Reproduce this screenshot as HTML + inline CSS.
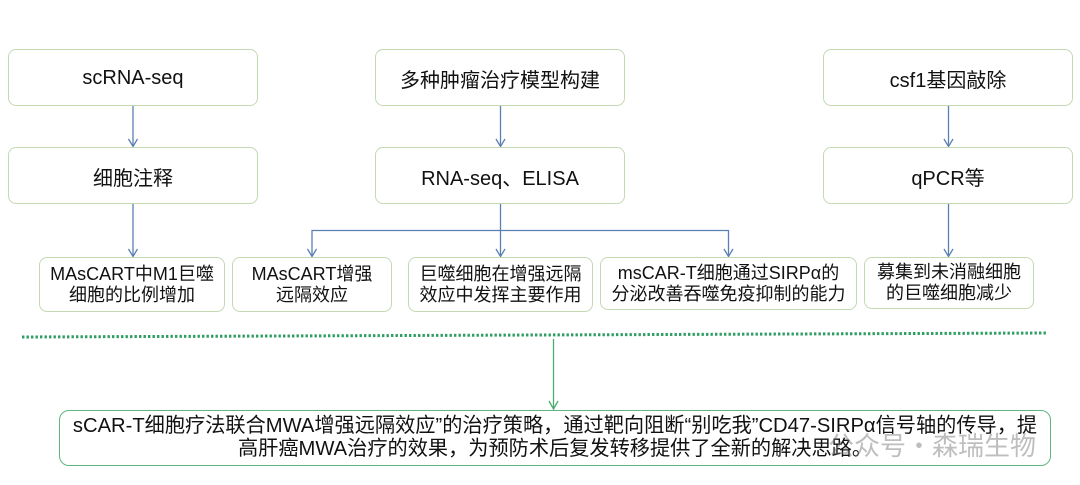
<!DOCTYPE html>
<html>
<head>
<meta charset="utf-8">
<style>
  html,body{margin:0;padding:0;background:#fff;}
  body{width:1080px;height:485px;position:relative;overflow:hidden;
       font-family:"Liberation Sans","Noto Sans CJK SC",sans-serif;color:#111;}
  .box{position:absolute;box-sizing:border-box;border:1.5px solid #c4d9b2;border-radius:8px;background:#fff;
       display:flex;align-items:center;justify-content:center;text-align:center;}
  .t{font-size:20px;padding-top:2px;}
  .s{font-size:18px;line-height:21px;}
  .big{position:absolute;box-sizing:border-box;left:59px;top:410px;width:992px;height:56px;
       border:1.5px solid #5fb682;border-radius:10px;background:#fff;
       display:flex;align-items:center;justify-content:center;text-align:center;
       font-size:20.2px;line-height:23px;white-space:nowrap;}
  svg{position:absolute;left:0;top:0;}
  .wm{position:absolute;left:828px;top:426px;font-size:26px;color:rgba(110,110,110,0.45);
      font-family:"Noto Sans CJK SC",sans-serif;white-space:nowrap;letter-spacing:0px;}
</style>
</head>
<body>
<svg width="1080" height="485" viewBox="0 0 1080 485">
  <g stroke="#5b7fb3" stroke-width="1.3" fill="none">
    <line x1="133" y1="106" x2="133" y2="146"/>
    <polyline points="128.5,139 133,146.5 137.5,139"/>
    <line x1="133" y1="204" x2="133" y2="256"/>
    <polyline points="128.5,249 133,256.5 137.5,249"/>
    <line x1="500.5" y1="106" x2="500.5" y2="146"/>
    <polyline points="496,139 500.5,146.5 505,139"/>
    <line x1="500.5" y1="204" x2="500.5" y2="256"/>
    <polyline points="496,249 500.5,256.5 505,249"/>
    <polyline points="312,256 312,230.5 728.5,230.5 728.5,256"/>
    <polyline points="307.5,249 312,256.5 316.5,249"/>
    <polyline points="724,249 728.5,256.5 733,249"/>
    <line x1="948.5" y1="106" x2="948.5" y2="146"/>
    <polyline points="944,139 948.5,146.5 953,139"/>
    <line x1="948.5" y1="204" x2="948.5" y2="256"/>
    <polyline points="944,249 948.5,256.5 953,249"/>
  </g>
  <line x1="22" y1="337" x2="1048" y2="333" stroke="#2f9e63" stroke-width="3" stroke-dasharray="2.4 2.1"/>
  <g stroke="#4cae6e" stroke-width="1.3" fill="none">
    <line x1="553.5" y1="339" x2="553.5" y2="409"/>
    <polyline points="549,401 553.5,409 558,401"/>
  </g>
</svg>

<div class="box t" style="left:8px;top:49px;width:250px;height:57px;">scRNA-seq</div>
<div class="box t" style="left:375px;top:49px;width:250px;height:57px;">多种肿瘤治疗模型构建</div>
<div class="box t" style="left:823px;top:49px;width:250px;height:57px;">csf1基因敲除</div>

<div class="box t" style="left:8px;top:147px;width:250px;height:57px;">细胞注释</div>
<div class="box t" style="left:375px;top:147px;width:250px;height:57px;">RNA-seq、ELISA</div>
<div class="box t" style="left:823px;top:147px;width:250px;height:57px;">qPCR等</div>

<div class="box s" style="left:39px;top:257px;width:186px;height:55px;">MAsCART中M1巨噬<br>细胞的比例增加</div>
<div class="box s" style="left:232px;top:257px;width:160px;height:55px;">MAsCART增强<br>远隔效应</div>
<div class="box s" style="left:408px;top:257px;width:185px;height:55px;">巨噬细胞在增强远隔<br>效应中发挥主要作用</div>
<div class="box s" style="left:600px;top:257px;width:257px;height:53px;">msCAR-T细胞通过SIRPα的<br>分泌改善吞噬免疫抑制的能力</div>
<div class="box s" style="left:864px;top:257px;width:170px;height:52px;">募集到未消融细胞<br>的巨噬细胞减少</div>

<div class="big">sCAR-T细胞疗法联合MWA增强远隔效应”的治疗策略，通过靶向阻断“别吃我”CD47-SIRPα信号轴的传导，提<br>高肝癌MWA治疗的效果，为预防术后复发转移提供了全新的解决思路。</div>

<div class="wm">公众号·森瑞生物</div>
</body>
</html>
